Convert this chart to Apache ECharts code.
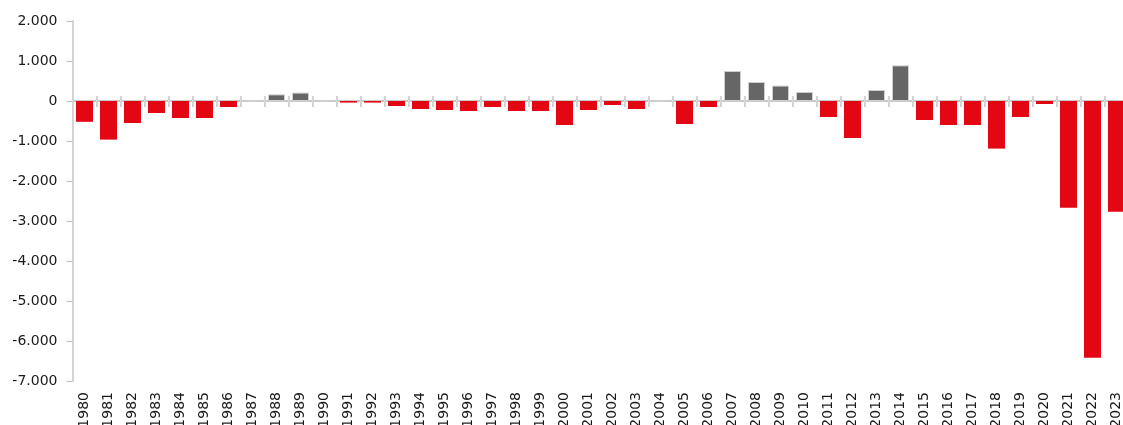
<!DOCTYPE html>
<html>
<head>
<meta charset="utf-8">
<script src="https://cdn.jsdelivr.net/npm/echarts@6/dist/echarts.min.js"></script>
<style>
html,body{margin:0;padding:0;background:#fff;}
#c{width:1123px;height:425px;}
</style>
</head>
<body>
<div id="c"></div>
<script>
const years = ['1980','1981','1982','1983','1984','1985','1986','1987','1988','1989','1990','1991','1992','1993','1994','1995','1996','1997','1998','1999','2000','2001','2002','2003','2004','2005','2006','2007','2008','2009','2010','2011','2012','2013','2014','2015','2016','2017','2018','2019','2020','2021','2022','2023'];
const values = [-520,-965,-550,-300,-425,-425,-150,0,165,210,0,-40,-40,-125,-200,-225,-250,-150,-250,-250,-600,-225,-100,-200,0,-575,-150,750,475,385,225,-400,-925,275,890,-475,-600,-600,-1190,-400,-75,-2670,-6420,-2770];
const yTicks = [-7000,-6000,-5000,-4000,-3000,-2000,-1000,0,1000,2000];

const RED = '#E30613', GREY = '#666666';
const fmt = v => {
  const s = Math.abs(v).toString().replace(/\B(?=(\d{3})+(?!\d))/g, '.');
  return (v < 0 ? '-' : '') + s;
};
const font = 'DejaVu Sans';
const yMin = yTicks[0], yMax = yTicks[yTicks.length-1];
const chart = echarts.init(document.getElementById('c'), null, {renderer:'canvas'});
chart.setOption({
  animation:false,
  backgroundColor:'#fff',
  grid:{left:72.5, top:21, width:1056, height:360, containLabel:false, outerBoundsMode:'none'},
  xAxis:[
    {type:'category', data:years, position:'bottom',
     axisLine:{show:false, onZero:false}, axisTick:{show:false},
     axisLabel:{rotate:90, margin:11, fontFamily:font, fontSize:14, color:'#1a1a1a', interval:0}},
    {type:'category', data:years, position:'bottom',
     axisLine:{show:true, onZero:true, onZeroAxisIndex:0, lineStyle:{color:'#b8b8b8', width:1.5}},
     axisTick:{show:true, interval:0, length:6, lineStyle:{color:'#d4d4d4', width:2}},
     axisLabel:{show:false, interval:0}},
    {type:'category', data:years, position:'top',
     axisLine:{show:false, onZero:true, onZeroAxisIndex:1},
     axisTick:{show:true, interval:0, length:5, lineStyle:{color:'#d4d4d4', width:2}},
     axisLabel:{show:false, interval:0}}
  ],
  yAxis:[{
    type:'value', min:yMin, max:yMax, interval:1000,
    axisLine:{show:true, lineStyle:{color:'#d4d4d4', width:2}},
    axisTick:{show:true, length:6, lineStyle:{color:'#bdbdbd', width:1}},
    splitLine:{show:false},
    axisLabel:{formatter:fmt, fontFamily:font, fontSize:14, color:'#1a1a1a', margin:15}
  },{
    type:'value', min:yMin, max:yMax, interval:1000, position:'right',
    axisLine:{show:false}, axisTick:{show:false}, axisLabel:{show:false}, splitLine:{show:false}
  }],
  series:[{
    type:'bar', xAxisIndex:0, yAxisIndex:0, barWidth:17,
    data: values.map(v => ({
      value:v,
      itemStyle: v >= 0 ? {color:GREY, borderColor:'#cfcfcf', borderWidth:1} : {color:RED}
    }))
  }]
});
</script>
</body>
</html>
